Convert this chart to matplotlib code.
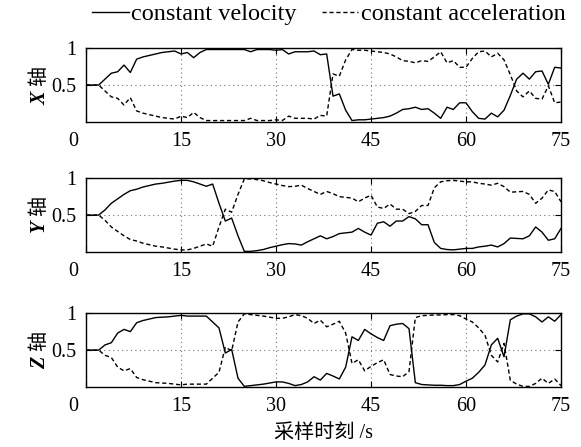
# -*- coding: utf-8 -*-
"""
Model probabilities of the constant velocity / constant acceleration filters
for the X, Y and Z axes
"""
#Packages
import numpy as np
import matplotlib
matplotlib.use('Agg')
import matplotlib.pyplot as plt
from matplotlib.transforms import ScaledTranslation

plt.rcParams['font.family'] = ['Liberation Serif', 'Noto Sans CJK SC']
plt.rcParams['mathtext.fontset'] = 'custom'
plt.rcParams['mathtext.it'] = 'Liberation Serif:italic:bold'
plt.rcParams['mathtext.rm'] = 'Noto Sans CJK SC'

#Data
time = np.arange(0, 76)
xticks = [0, 15, 30, 45, 60, 75]
yticks = [0.5, 1]
ytick_labels = ['0.5', '1']
axis_labels = [r'$X$ $\mathrm{轴}$', r'$Y$ $\mathrm{轴}$', r'$Z$ $\mathrm{轴}$']
legend_labels = ['constant velocity', 'constant acceleration']
x_label = '采样时刻 /s'

x_cv = [0.50, 0.50, 0.50, 0.58, 0.66, 0.68, 0.77, 0.67, 0.85, 0.88,
        0.90, 0.92, 0.94, 0.95, 0.96, 0.92, 0.94, 0.87, 0.94, 0.98,
        0.98, 0.98, 0.98, 0.98, 0.98, 0.98, 0.95, 0.98, 0.98, 0.98,
        0.97, 0.98, 0.92, 0.95, 0.95, 0.95, 0.96, 0.91, 0.92, 0.35,
        0.38, 0.16, 0.02, 0.03, 0.03, 0.04, 0.05, 0.06, 0.08, 0.12,
        0.17, 0.18, 0.20, 0.17, 0.18, 0.12, 0.05, 0.20, 0.17, 0.26,
        0.26, 0.14, 0.05, 0.04, 0.12, 0.07, 0.16, 0.36, 0.58, 0.66,
        0.58, 0.68, 0.69, 0.51, 0.74, 0.73]
x_ca = [0.50, 0.50, 0.50, 0.42, 0.34, 0.32, 0.23, 0.33, 0.15, 0.12,
        0.10, 0.08, 0.06, 0.05, 0.04, 0.08, 0.06, 0.13, 0.06, 0.02,
        0.02, 0.02, 0.02, 0.02, 0.02, 0.02, 0.05, 0.02, 0.02, 0.02,
        0.03, 0.02, 0.08, 0.05, 0.05, 0.05, 0.04, 0.09, 0.08, 0.65,
        0.62, 0.84, 0.98, 0.97, 0.97, 0.96, 0.95, 0.94, 0.92, 0.88,
        0.83, 0.82, 0.80, 0.83, 0.82, 0.88, 0.95, 0.80, 0.83, 0.74,
        0.74, 0.86, 0.95, 0.96, 0.88, 0.93, 0.84, 0.64, 0.42, 0.34,
        0.42, 0.32, 0.31, 0.49, 0.26, 0.27]

y_cv = [0.50, 0.50, 0.50, 0.57, 0.66, 0.72, 0.78, 0.83, 0.85, 0.88,
        0.90, 0.92, 0.93, 0.945, 0.96, 0.97, 0.97, 0.95, 0.92, 0.89,
        0.92, 0.66, 0.42, 0.46, 0.22, 0.01, 0.01, 0.02, 0.035, 0.06,
        0.08, 0.10, 0.115, 0.11, 0.095, 0.14, 0.18, 0.22, 0.18, 0.21,
        0.25, 0.26, 0.27, 0.32, 0.27, 0.23, 0.39, 0.41, 0.35, 0.42,
        0.42, 0.48, 0.45, 0.37, 0.37, 0.13, 0.05, 0.035, 0.03, 0.04,
        0.05, 0.05, 0.07, 0.08, 0.095, 0.07, 0.115, 0.19, 0.185, 0.18,
        0.22, 0.34, 0.27, 0.16, 0.18, 0.32]
y_ca = [0.50, 0.50, 0.50, 0.43, 0.34, 0.28, 0.22, 0.17, 0.15, 0.12,
        0.10, 0.08, 0.07, 0.055, 0.04, 0.03, 0.03, 0.05, 0.08, 0.11,
        0.08, 0.34, 0.58, 0.54, 0.78, 0.99, 0.99, 0.98, 0.965, 0.94,
        0.92, 0.90, 0.885, 0.89, 0.905, 0.86, 0.82, 0.78, 0.82, 0.79,
        0.75, 0.74, 0.73, 0.68, 0.73, 0.77, 0.61, 0.59, 0.65, 0.58,
        0.58, 0.52, 0.55, 0.63, 0.63, 0.87, 0.95, 0.965, 0.97, 0.96,
        0.95, 0.95, 0.93, 0.92, 0.905, 0.93, 0.885, 0.81, 0.815, 0.82,
        0.78, 0.66, 0.73, 0.84, 0.82, 0.68]

z_cv = [0.50, 0.50, 0.50, 0.57, 0.60, 0.73, 0.78, 0.75, 0.87, 0.90,
        0.92, 0.94, 0.945, 0.95, 0.96, 0.97, 0.96, 0.96, 0.96, 0.96,
        0.88, 0.80, 0.46, 0.51, 0.12, 0.01, 0.02, 0.03, 0.04, 0.055,
        0.07, 0.07, 0.05, 0.02, 0.035, 0.07, 0.14, 0.095, 0.185, 0.15,
        0.11, 0.27, 0.68, 0.63, 0.78, 0.72, 0.67, 0.63, 0.83, 0.85,
        0.86, 0.79, 0.06, 0.035, 0.03, 0.025, 0.025, 0.02, 0.02, 0.035,
        0.08, 0.12, 0.20, 0.30, 0.57, 0.66, 0.41, 0.91, 0.96, 0.99,
        0.99, 0.95, 0.88, 0.95, 0.89, 0.98]
z_ca = [0.50, 0.50, 0.50, 0.43, 0.40, 0.27, 0.22, 0.25, 0.13, 0.10,
        0.08, 0.06, 0.055, 0.05, 0.04, 0.03, 0.04, 0.04, 0.04, 0.04,
        0.12, 0.20, 0.54, 0.49, 0.88, 0.99, 0.98, 0.97, 0.96, 0.945,
        0.93, 0.93, 0.95, 0.98, 0.965, 0.93, 0.86, 0.905, 0.815, 0.85,
        0.89, 0.73, 0.32, 0.37, 0.22, 0.28, 0.33, 0.37, 0.17, 0.15,
        0.14, 0.21, 0.94, 0.965, 0.97, 0.975, 0.975, 0.98, 0.98, 0.965,
        0.92, 0.88, 0.80, 0.70, 0.43, 0.34, 0.59, 0.09, 0.04, 0.01,
        0.01, 0.05, 0.12, 0.05, 0.11, 0.02]

series = [(x_cv, x_ca), (y_cv, y_ca), (z_cv, z_ca)]


def draw_axis(ax, cv, ca, label):
    # One subplot: both model probabilities
    l1, = ax.plot(time, cv, color='black', lw=1.0, ls='-')
    l2, = ax.plot(time, ca, color='black', lw=1.0, ls=(0, (3, 2)))

    ax.set_xlim(0, 75)
    ax.set_ylim(0, 1)
    ax.set_xticks(xticks)
    ax.set_yticks(yticks)
    ax.set_yticklabels(ytick_labels)
    ax.tick_params(direction='in', top=True, right=True, length=4,
                   labelsize=14.5, pad=7, width=0.8)
    ax.grid(True, ls=(0, (1, 3)), color='0.45', lw=0.8)
    for s in ax.spines.values():
        s.set_linewidth(1.0)

    # "0" label sits left of the axis, as in the original
    lab = ax.get_xticklabels()[0]
    lab.set_transform(lab.get_transform() +
                      ScaledTranslation(-0.13, 0, ax.figure.dpi_scale_trans))

    ax.set_ylabel(label, fontsize=14.5)
    ax.yaxis.set_label_coords(-0.075, 0.5)
    return l1, l2


# Main Program
fig = plt.figure(figsize=(5.81, 4.47), dpi=100)

bottoms = [0.727, 0.436, 0.134]
handles = None
for b, (cv, ca), lbl in zip(bottoms, series, axis_labels):
    ax = fig.add_axes([0.148, b, 0.8176, 0.1655])
    handles = draw_axis(ax, cv, ca, lbl)

ax.set_xlabel(x_label, fontsize=14.5, labelpad=6)

fig.legend(handles, legend_labels, loc='center', bbox_to_anchor=(0.566, 0.968),
           ncol=2, frameon=False, fontsize=17.5, handlelength=1.5,
           handletextpad=0.1, columnspacing=1.05, borderaxespad=0)

plt.savefig('out.png', dpi=100)
